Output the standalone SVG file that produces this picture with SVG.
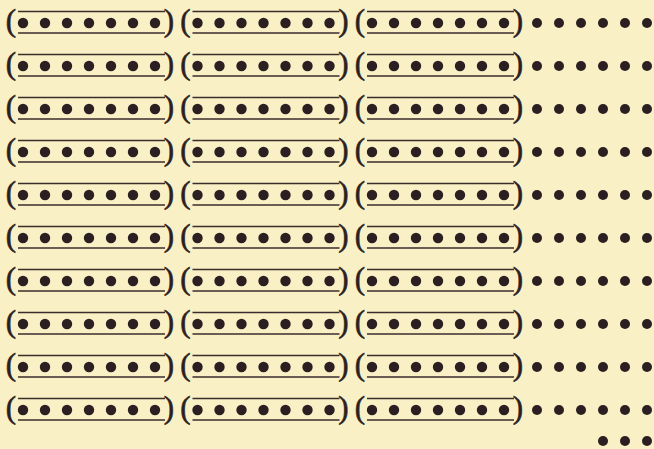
<svg xmlns="http://www.w3.org/2000/svg" xmlns:xlink="http://www.w3.org/1999/xlink" width="654" height="449" viewBox="0 0 654 449">
<style>
.bg{fill:#f9f0c6}
.d{fill:#2b1f22}
.ln{stroke:#3a2e2c;stroke-width:1.6;fill:none}
.p{font-family:"Liberation Serif",serif;font-size:31px;font-weight:normal;fill:#2b1f22;text-anchor:middle;stroke:#2b1f22;stroke-width:0.6}
</style>
<defs>
<g id="grp">
<text class="p" x="-12" y="8">(</text>
<text class="p" x="146" y="8">)</text>
<line class="ln" x1="-5" y1="-11.5" x2="142" y2="-11.5"/>
<line class="ln" x1="-5" y1="10" x2="142" y2="10"/>
<circle class="d" cx="0" cy="0" r="5.2"/>
<circle class="d" cx="22" cy="0" r="5.2"/>
<circle class="d" cx="44" cy="0" r="5.2"/>
<circle class="d" cx="66" cy="0" r="5.2"/>
<circle class="d" cx="88" cy="0" r="5.2"/>
<circle class="d" cx="110" cy="0" r="5.2"/>
<circle class="d" cx="132" cy="0" r="5.2"/>
</g>
<g id="six">
<circle class="d" cx="537" cy="0" r="5"/>
<circle class="d" cx="559" cy="0" r="5"/>
<circle class="d" cx="581" cy="0" r="5"/>
<circle class="d" cx="603" cy="0" r="5"/>
<circle class="d" cx="625" cy="0" r="5"/>
<circle class="d" cx="647" cy="0" r="5"/>
</g>
</defs>
<rect class="bg" x="0" y="0" width="654" height="449"/>
<g id="row1"><use xlink:href="#grp" x="23" y="23"/><use xlink:href="#grp" x="197.5" y="23"/><use xlink:href="#grp" x="372" y="23"/><use xlink:href="#six" y="23"/></g>
<g id="row2"><use xlink:href="#grp" x="23" y="66"/><use xlink:href="#grp" x="197.5" y="66"/><use xlink:href="#grp" x="372" y="66"/><use xlink:href="#six" y="66"/></g>
<g id="row3"><use xlink:href="#grp" x="23" y="109"/><use xlink:href="#grp" x="197.5" y="109"/><use xlink:href="#grp" x="372" y="109"/><use xlink:href="#six" y="109"/></g>
<g id="row4"><use xlink:href="#grp" x="23" y="152"/><use xlink:href="#grp" x="197.5" y="152"/><use xlink:href="#grp" x="372" y="152"/><use xlink:href="#six" y="152"/></g>
<g id="row5"><use xlink:href="#grp" x="23" y="195"/><use xlink:href="#grp" x="197.5" y="195"/><use xlink:href="#grp" x="372" y="195"/><use xlink:href="#six" y="195"/></g>
<g id="row6"><use xlink:href="#grp" x="23" y="238"/><use xlink:href="#grp" x="197.5" y="238"/><use xlink:href="#grp" x="372" y="238"/><use xlink:href="#six" y="238"/></g>
<g id="row7"><use xlink:href="#grp" x="23" y="281"/><use xlink:href="#grp" x="197.5" y="281"/><use xlink:href="#grp" x="372" y="281"/><use xlink:href="#six" y="281"/></g>
<g id="row8"><use xlink:href="#grp" x="23" y="324"/><use xlink:href="#grp" x="197.5" y="324"/><use xlink:href="#grp" x="372" y="324"/><use xlink:href="#six" y="324"/></g>
<g id="row9"><use xlink:href="#grp" x="23" y="367"/><use xlink:href="#grp" x="197.5" y="367"/><use xlink:href="#grp" x="372" y="367"/><use xlink:href="#six" y="367"/></g>
<g id="row10"><use xlink:href="#grp" x="23" y="410"/><use xlink:href="#grp" x="197.5" y="410"/><use xlink:href="#grp" x="372" y="410"/><use xlink:href="#six" y="410"/></g>
<g id="row11">
<circle class="d" cx="603" cy="441" r="5"/>
<circle class="d" cx="625" cy="441" r="5"/>
<circle class="d" cx="647" cy="441" r="5"/>
</g>
</svg>
